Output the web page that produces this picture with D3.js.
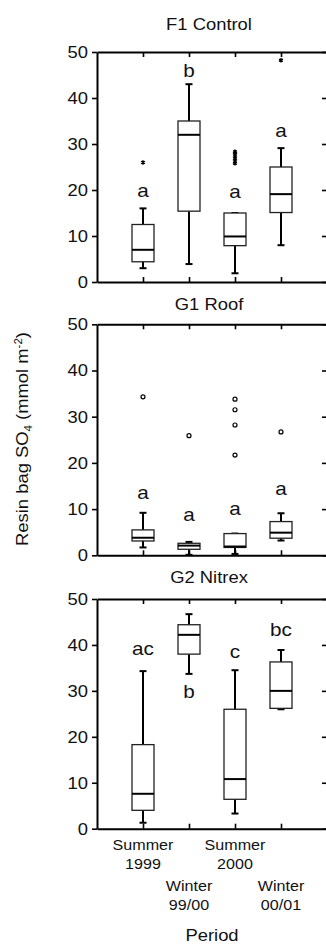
<!DOCTYPE html>
<html>
<head>
<meta charset="utf-8">
<script src="https://cdn.jsdelivr.net/npm/d3@7"></script>
<style>
  body { margin: 0; background: #fff; }
  text { font-family: "Liberation Sans", Arial, sans-serif; fill: #111; }
</style>
</head>
<body>
<div id="chart"></div>
<script>
// categories and values
const periods = ['Summer 1999', 'Winter 99/00', 'Summer 2000', 'Winter 00/01']
const periodLines = [['Summer', '1999'], ['Winter', '99/00'], ['Summer', '2000'], ['Winter', '00/01']]
const yTicks = [0, 10, 20, 30, 40, 50]

// [whisker low, q1, median, q3, whisker high]
const f1Box = [[3.0, 4.4, 7.0, 12.5, 16.0], [3.9, 15.4, 32.0, 35.0, 43.0], [1.9, 7.9, 9.9, 15.0, 15.0], [8.0, 15.1, 19.1, 25.0, 29.1]]
const f1Out = [[26.0], [], [25.8, 26.5, 27.2, 27.8, 28.3], [48.2]]
const f1Let = ['a', 'b', 'a', 'a']
const f1LetAt = [19.8, 45.8, 19.6, 32.8]

const g1Box = [[1.7, 3.1, 3.8, 5.5, 9.2], [0.1, 1.3, 2.1, 2.6, 2.9], [0.3, 1.7, 1.9, 4.7, 4.7], [3.2, 3.7, 4.9, 7.3, 9.1]]
const g1Out = [[34.3], [25.9], [21.7, 28.2, 31.5, 33.8], [26.7]]
const g1Let = ['a', 'a', 'a', 'a']
const g1LetAt = [13.4, 8.7, 10.0, 14.3]

const g2Box = [[1.3, 4.0, 7.6, 18.3, 34.3], [33.7, 38.0, 42.2, 44.4, 46.7], [3.3, 6.4, 10.8, 26.0, 34.5], [26.0, 26.2, 30.0, 36.3, 38.9]]
const g2Out = [[], [], [], []]
const g2Let = ['ac', 'b', 'c', 'bc']
const g2LetAt = [39.2, 29.7, 38.5, 43.2]

const panels = [
  { title: 'F1 Control', box: f1Box, out: f1Out, letters: f1Let, letAt: f1LetAt, top: 52, bottom: 282, titleY: 30, mark: 'star' },
  { title: 'G1 Roof', box: g1Box, out: g1Out, letters: g1Let, letAt: g1LetAt, top: 324.3, bottom: 555.3, titleY: 309.5, mark: 'circle' },
  { title: 'G2 Nitrex', box: g2Box, out: g2Out, letters: g2Let, letAt: g2LetAt, top: 599, bottom: 828.7, titleY: 583, mark: 'circle' }
]

const width = 326, height = 944
const left = 97, right = 327
const sx = 1.15 // the fonts in the figure are a bit wide

const svg = d3.select('#chart').append('svg')
  .attr('width', width)
  .attr('height', height)

const x = d3.scalePoint().domain(periods).range([left, right]).padding(1)

// text with a little horizontal stretch
function stext(sel, tx, ty, str, size, anchor) {
  return sel.append('text')
    .attr('transform', `translate(${tx},${ty}) scale(${sx},1)`)
    .attr('text-anchor', anchor || 'middle')
    .style('font-size', size + 'px')
    .text(str)
}

panels.forEach((p, pi) => {
  const y = d3.scaleLinear().domain([0, 50]).range([p.bottom, p.top])
  const g = svg.append('g').attr('class', 'panel')

  stext(g, 209, p.titleY, p.title, 16)

  // left axis with labels
  const yAxis = g.append('g')
    .attr('transform', `translate(${left},0)`)
    .call(d3.axisLeft(y).tickValues(yTicks).tickSize(5).tickSizeOuter(0).tickFormat(d3.format('d')))
  yAxis.selectAll('text').remove()
  yTicks.forEach(t => stext(g, left - 9, y(t) + 5.8, t, 16, 'end'))

  // right, top, bottom: ticks pointing in
  g.append('g')
    .attr('transform', `translate(${right},0)`)
    .call(d3.axisLeft(y).tickValues(yTicks).tickSize(5).tickSizeOuter(0).tickFormat(''))
  g.append('g')
    .attr('transform', `translate(0,${p.top})`)
    .call(d3.axisBottom(x).tickSize(5).tickSizeOuter(0).tickFormat(''))
  g.append('g')
    .attr('transform', `translate(0,${p.bottom})`)
    .call(d3.axisTop(x).tickSize(5).tickSizeOuter(0).tickFormat(''))

  g.selectAll('.domain').attr('stroke', '#000').attr('stroke-width', 2)
  g.selectAll('.tick line').attr('stroke', '#000').attr('stroke-width', 1.6)

  // boxes
  const bw = 11, cw = 3.5
  p.box.forEach((b, i) => {
    const cx = x(periods[i])
    const [lo, q1, med, q3, hi] = b
    const bg = g.append('g')
    // whiskers
    bg.append('line').attr('x1', cx).attr('x2', cx).attr('y1', y(q3)).attr('y2', y(hi))
      .attr('stroke', '#000').attr('stroke-width', 2)
    bg.append('line').attr('x1', cx).attr('x2', cx).attr('y1', y(q1)).attr('y2', y(lo))
      .attr('stroke', '#000').attr('stroke-width', 2)
    ;[lo, hi].forEach(v => {
      bg.append('line').attr('x1', cx - cw).attr('x2', cx + cw).attr('y1', y(v)).attr('y2', y(v))
        .attr('stroke', '#000').attr('stroke-width', 2)
    })
    bg.append('rect')
      .attr('x', cx - bw).attr('width', bw * 2)
      .attr('y', y(q3)).attr('height', Math.max(0.5, y(q1) - y(q3)))
      .attr('fill', '#fff').attr('stroke', '#222').attr('stroke-width', 1.3)
    bg.append('line').attr('x1', cx - bw).attr('x2', cx + bw).attr('y1', y(med)).attr('y2', y(med))
      .attr('stroke', '#000').attr('stroke-width', 2)

    // outliers
    p.out[i].forEach(v => {
      if (p.mark === 'star') {
        bg.append('path')
          .attr('transform', `translate(${cx},${y(v)})`)
          .attr('d', d3.symbol(d3.symbolAsterisk, 14)())
          .attr('fill', 'none').attr('stroke', '#000').attr('stroke-width', 1.4)
      } else {
        bg.append('circle')
          .attr('cx', cx).attr('cy', y(v)).attr('r', 2)
          .attr('fill', '#fff').attr('stroke', '#000').attr('stroke-width', 1.2)
      }
    })

    // significance letters
    stext(g, cx, y(p.letAt[i]) + 6, p.letters[i], 18)
  })

  // category labels only under the last panel
  if (pi === panels.length - 1) {
    periodLines.forEach((lines, i) => {
      const base = i % 2 === 0 ? 850 : 891
      lines.forEach((s, k) => stext(g, x(periods[i]), base + k * 19, s, 14))
    })
  }
})

// axis titles
stext(svg, 212, 941, 'Period', 16)

const yl = svg.append('text')
  .attr('transform', `translate(28,439) rotate(-90) scale(${sx},1)`)
  .attr('text-anchor', 'middle')
  .style('font-size', '16px')
yl.append('tspan').text('Resin bag SO')
yl.append('tspan').attr('dy', 4).style('font-size', '10px').text('4')
yl.append('tspan').attr('dy', -4).text(' (mmol m')
yl.append('tspan').attr('dy', -6).style('font-size', '10px').text('-2')
yl.append('tspan').attr('dy', 6).text(')')
</script>
</body>
</html>
